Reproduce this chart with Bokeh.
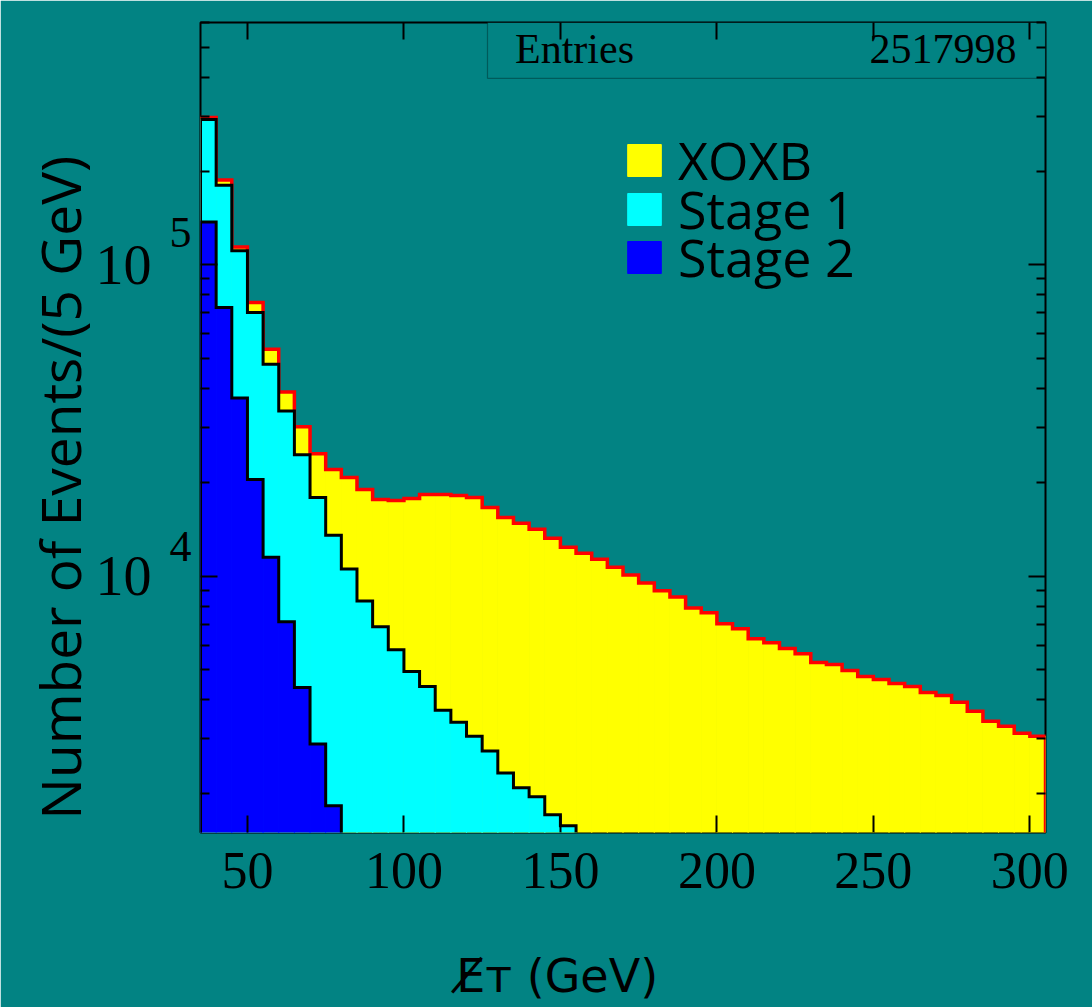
from bokeh.plotting import figure
from bokeh.models import (LogAxis, LinearAxis, FixedTicker, Label, BoxAnnotation,
                          Legend, LegendItem, ColumnDataSource, CustomJSTickFormatter,
                          Title)
from bokeh.embed import file_html
from bokeh.resources import INLINE

# ---------------- data ----------------
bin_width = 5
x_lo_edge = 35
x_hi_edge = 305

# XOXB: bins 35-40 ... 300-305
xoxb = [297000, 187000, 114000, 75600, 53500, 39000, 30150, 24700, 21970, 20710,
        18970, 17620, 17490, 17750, 18280, 18280, 18150, 17880, 16610, 15430,
        14770, 14130, 13230, 12380, 11840, 11330, 10680, 10070, 9500, 8960,
        8570, 7900, 7615, 7025, 6770, 6290, 6105, 5845, 5630, 5270,
        5195, 4970, 4757, 4653, 4518, 4420, 4228, 4136, 3928, 3677,
        3416, 3293, 3127, 3059]
# Stage 1: bins 35-40 ... 150-155
stage1 = [292800, 180100, 110800, 70240, 47920, 33920, 24540, 17880, 13520, 10530,
          8320, 6870, 5800, 4935, 4420, 3705, 3392, 3059, 2740, 2330,
          2087, 1953, 1711, 1578]
# Stage 2: bins 35-40 ... 75-80
stage2 = [137200, 72880, 37320, 20410, 11500, 7130, 4387, 2884, 1828]

entries_text = "2517998"
legend_labels = ["XOXB", "Stage 1", "Stage 2"]
x_ticks = [50, 100, 150, 200, 250, 300]
y_major = [10000, 100000]
y_major_text = ["10", "10"]
y_exp_text = ["4", "5"]
y_minor = [2e3, 3e3, 4e3, 5e3, 6e3, 7e3, 8e3, 9e3,
           2e4, 3e4, 4e4, 5e4, 6e4, 7e4, 8e4, 9e4,
           2e5, 3e5, 4e5, 5e5, 6e5]
y_min, y_max = 1500, 6.0e5
y_title = "Number of Events/(5 GeV)"
x_title = "E\u0338\u1d1b (GeV)"

TEAL = "#028383"
FLOOR = 1.0

def hist_source(vals):
    lefts = [x_lo_edge + i * bin_width for i in range(len(vals))]
    rights = [l + bin_width for l in lefts]
    return ColumnDataSource(dict(left=lefts, right=rights, top=vals,
                                 bottom=[FLOOR] * len(vals)))

def outline(vals):
    xs = [x_lo_edge]
    ys = [FLOOR]
    for i, v in enumerate(vals):
        l = x_lo_edge + i * bin_width
        xs += [l, l + bin_width]
        ys += [v, v]
    xs.append(x_lo_edge + len(vals) * bin_width)
    ys.append(FLOOR)
    return xs, ys

p = figure(width=1092, height=1007, x_range=(x_lo_edge, x_hi_edge),
           y_range=(y_min, y_max), y_axis_type="log",
           output_backend="svg", toolbar_location=None,
           min_border_left=200, min_border_right=47,
           min_border_top=22, min_border_bottom=175)
p.background_fill_color = TEAL
p.border_fill_color = TEAL
p.outline_line_color = "black"
p.outline_line_width = 2
p.xgrid.visible = False
p.ygrid.visible = False

# histograms (overlaid)
r_x = p.quad(left="left", right="right", top="top", bottom="bottom",
             source=hist_source(xoxb), fill_color="#ffff00",
             line_color="#ffff00", line_width=1)
xs, ys = outline(xoxb)
p.line(xs, ys, line_color="#ff0000", line_width=3.5, line_join="miter")

r_1 = p.quad(left="left", right="right", top="top", bottom="bottom",
             source=hist_source(stage1), fill_color="#00ffff",
             line_color="#00ffff", line_width=1)
xs, ys = outline(stage1)
p.line(xs, ys, line_color="black", line_width=3, line_join="miter")

r_2 = p.quad(left="left", right="right", top="top", bottom="bottom",
             source=hist_source(stage2), fill_color="#0000ff",
             line_color="#0000ff", line_width=1)
xs, ys = outline(stage2)
p.line(xs, ys, line_color="black", line_width=3, line_join="miter")

# ---------------- axes ----------------
yticker = FixedTicker(ticks=y_major, minor_ticks=y_minor)
xticker = FixedTicker(ticks=x_ticks, minor_ticks=[])
blank = CustomJSTickFormatter(code="return ''")

def style_axis(ax, ticks=True):
    ax.axis_line_color = None
    ax.major_tick_line_color = "black"
    ax.major_tick_line_width = 2
    ax.minor_tick_line_color = "black"
    ax.minor_tick_line_width = 2
    ax.major_tick_in = 17 if ticks else 0
    ax.major_tick_out = 0
    ax.minor_tick_in = 9 if ticks else 0
    ax.minor_tick_out = 0
    if not ticks:
        ax.major_tick_line_color = None
        ax.minor_tick_line_color = None

# inner left axis: ticks only
yl = p.yaxis[0]
yl.ticker = yticker
style_axis(yl)
yl.formatter = blank
yl.major_label_standoff = 0

# exponent axis (labels raised above each decade tick)
exp_pos = [12480, 126600]
ye = LogAxis(ticker=FixedTicker(ticks=exp_pos, minor_ticks=[]),
             major_label_overrides={k: t for k, t in zip(exp_pos, y_exp_text)},
             major_label_text_font="Liberation Serif", major_label_text_font_size="44px",
             major_label_text_color="black", major_label_standoff=9)
style_axis(ye, ticks=False)
p.add_layout(ye, "left")

# mantissa axis "10"
ym = LogAxis(ticker=FixedTicker(ticks=y_major, minor_ticks=[]),
             major_label_overrides={k: t for k, t in zip(y_major, y_major_text)},
             major_label_text_font="Liberation Serif", major_label_text_font_size="56px",
             major_label_text_color="black", major_label_standoff=15)
style_axis(ym, ticks=False)
p.add_layout(ym, "left")

xb = p.xaxis[0]
xb.ticker = xticker
style_axis(xb)
xb.major_label_text_font = "Liberation Serif"
xb.major_label_text_font_size = "52px"
xb.major_label_text_color = "black"
xb.major_label_standoff = 20
# x title (padded with no-break spaces so that it sits left of centre as in the reference)
xb.axis_label = x_title + "\u00a0" * 9
xb.axis_label_text_font = "DejaVu Sans"
xb.axis_label_text_font_size = "46px"
xb.axis_label_text_font_style = "normal"
xb.axis_label_text_color = "black"
xb.axis_label_standoff = 58

yr = LogAxis(ticker=yticker, formatter=blank)
style_axis(yr)
p.add_layout(yr, "right")

xt = LinearAxis(ticker=xticker, formatter=blank)
style_axis(xt)
p.add_layout(xt, "above")

# y title
p.add_layout(Title(text=y_title, align="left", offset=13, standoff=-8,
                   text_font="Open Sans", text_font_size="55px",
                   text_font_style="normal", text_color="black"), "left")

# statistics box
p.add_layout(BoxAnnotation(left=126.7, bottom=3.97e5, fill_color=TEAL, fill_alpha=1.0,
                           line_color="black", line_width=1.2, level="underlay"))
p.add_layout(Label(x=135.5, y=4.41e5, y_offset=15, text="Entries", text_align="left",
                   text_baseline="alphabetic", text_font="Liberation Serif",
                   text_font_size="42px", text_color="black"))
p.add_layout(Label(x=295.7, y=4.41e5, y_offset=15, text=entries_text, text_align="right",
                   text_baseline="alphabetic", text_font="Liberation Serif",
                   text_font_size="42px", text_color="black"))

# legend: one entry per box so that rows sit where the reference has them
glyph_tops = [143, 192, 240]
for lab, rend, gt in zip(legend_labels, [r_x, r_1, r_2], glyph_tops):
    lg = Legend(items=[LegendItem(label=lab, renderers=[rend])],
                location=(423, 832 - gt - 52), glyph_width=42, glyph_height=40,
                label_text_font="Open Sans", label_text_font_size="52px",
                label_text_color="black", label_standoff=13,
                padding=0, margin=0, label_height=40,
                background_fill_alpha=0, border_line_color=None)
    p.add_layout(lg)

open("out.html", "w").write(file_html(p, INLINE))
